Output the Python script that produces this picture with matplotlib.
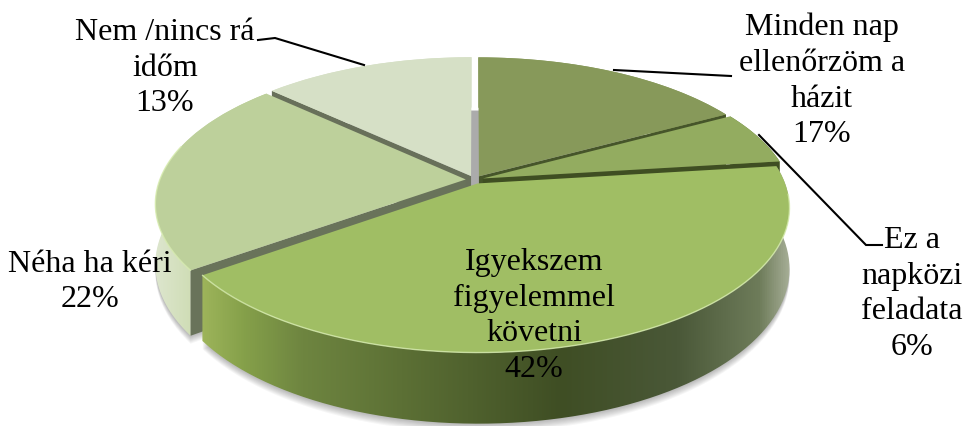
import numpy as np
import matplotlib
matplotlib.use("Agg")
import matplotlib.pyplot as plt
from matplotlib.transforms import Transform
from matplotlib.path import Path
from matplotlib.patches import PathPatch, Wedge
from matplotlib.colors import LinearSegmentedColormap

plt.rcParams['font.family'] = ['Liberation Serif', 'DejaVu Serif']

# ---- data ----
labels = ["Minden nap\nellenőrzöm a\nházit", "Ez a\nnapközi\nfeladata",
          "Igyekszem\nfigyelemmel\nkövetni", "Néha ha kéri", "Nem /nincs rá\nidőm"]
values = [17, 6, 42, 22, 13]
explode = [0.0285] * 5
top_colors = ["#87995A", "#93AC60", "#A0BE64", "#BDD09B", "#D6E0C6"]
radial_colors = ["#46552A", "#3F4E22", "#5A6E30", "#69735A", "#68705A"]
front_edge = ["theta1", "theta1", None, "theta2", "theta2"]

# ---- layout ----
CX, CY = 474.5, 179.7
A, B, K, DEPTH = 139.7, 306.0, 0.166, 59.0
label_xy = [(822, 81), (912, 294), (534, 316), (90, 282), (165, 68)]
leaders = [([614, 731], [70, 76]),
           ([759, 866, 882], [135, 245, 245]),
           ([364, 275, 258], [65, 38, 40])]


class Persp(Transform):
    input_dims = output_dims = 2
    is_affine = False
    has_inverse = False

    def __init__(self, z=0.0):
        super().__init__()
        self.z = z

    def transform_non_affine(self, xy):
        xy = np.asarray(xy, float)
        d = 1 + K * xy[:, 1]
        return np.column_stack([CX + B * xy[:, 0] / d,
                                CY - (A * xy[:, 1] - self.z) / d])


fig = plt.figure(figsize=(9.64, 4.26), dpi=100)
ax = fig.add_axes([0, 0, 1, 1])
wedges, _ = ax.pie(values, explode=explode, startangle=90, counterclock=False,
                   colors=top_colors, radius=1.0)
ax.set_aspect('auto')
top = Persp(0) + ax.transData
bot = Persp(DEPTH)
topm = Persp(0)


def arc(w, n=80):
    t = np.radians(np.linspace(w.theta1, w.theta2, n))
    return np.column_stack([w.center[0] + w.r * np.cos(t), w.center[1] + w.r * np.sin(t)])


def gradient_wall(pts, stops, x0, x1, z):
    cmap = LinearSegmentedColormap.from_list("w", stops)
    im = ax.imshow(np.linspace(0, 1, 512)[None, :], extent=(x0, x1, 426, 0), cmap=cmap,
                   aspect='auto', zorder=z, interpolation='bilinear')
    patch = PathPatch(Path(np.vstack([pts, pts[:1]]), closed=True), transform=ax.transData,
                      fc='none', ec='none')
    ax.add_patch(patch)
    im.set_clip_path(patch)


def radial(w, angle, color, z):
    c = np.array(w.center)
    p = c + w.r * np.array([np.cos(np.radians(angle)), np.sin(np.radians(angle))])
    e = np.array([c, p])
    poly = np.vstack([topm.transform(e), bot.transform(e[::-1])])
    ax.fill(poly[:, 0], poly[:, 1], color=color, lw=0, zorder=z)


wall_stops = {
    2: [(0, "#9DB45A"), (.07, "#85A04A"), (.17, "#6E8540"), (.34, "#5C7035"), (.61, "#3F4E24"),
        (.81, "#4A5838"), (.95, "#6E7C5A"), (1, "#A5AD95")],
    3: [(0, "#DDE6CE"), (.5, "#C8D8A8"), (1, "#B4C68C")],
    4: [(0, "#D6E0C6"), (1, "#D6E0C6")],
    0: [(0, "#87995A"), (1, "#87995A")],
    1: [(0, "#66803A"), (1, "#66803A")],
}

# soft shadow under the pie
for k in range(1, 9):
    for w in wedges[2:4]:
        s = Wedge(w.center, w.r, w.theta1, w.theta2, fc="#000000", ec='none', alpha=0.035,
                  zorder=1, transform=Persp(DEPTH + k * 0.9) + ax.transData)
        ax.add_patch(s)

# grey floor visible through the gap between first and last slice
floor = Wedge((0, 0), 1.0, wedges[0].theta1, wedges[4].theta2, fc="#ABABAB", ec='none', zorder=2,
              transform=bot + ax.transData)
ax.add_patch(floor)

order = [4, 0, 1, 3, 2]
for n, i in enumerate(order):
    w = wedges[i]
    base = 10 + 10 * n
    a = arc(w)
    st, sb = topm.transform(a), bot.transform(a)
    poly = np.vstack([st, sb[::-1]])
    gradient_wall(poly, wall_stops[i], poly[:, 0].min(), poly[:, 0].max(), base)
    if front_edge[i]:
        radial(w, getattr(w, front_edge[i]), radial_colors[i], base + 1)
    w.set_transform(top)
    w.set_zorder(base + 3)
    if i in (2, 3):
        front = st[a[:, 1] < 0.25 if i == 3 else a[:, 1] < -0.1]
        ax.plot(front[:, 0], front[:, 1], color="#D8EDB0", lw=1.0, alpha=.8,
                zorder=base + 4, solid_capstyle='round')

for xs, ys in leaders:
    ax.plot(xs, ys, color="black", lw=1.5, zorder=100, solid_joinstyle='miter')

for lab, val, (x, y) in zip(labels, values, label_xy):
    ax.text(x, y, f"{lab}\n{val}%", ha='center', va='center', fontsize=23,
            color="black", linespacing=1.3, zorder=101)

ax.set_xlim(0, 964)
ax.set_ylim(426, 0)
ax.axis('off')
fig.savefig("out.png", dpi=100, facecolor="white")
